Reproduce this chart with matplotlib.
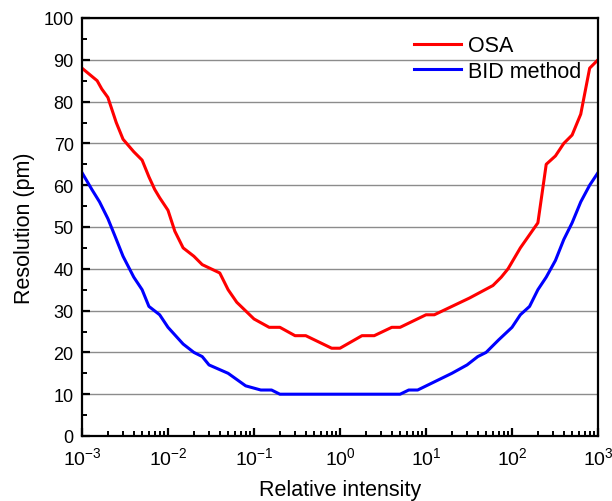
import numpy as np
import matplotlib
matplotlib.use('Agg')
import matplotlib.pyplot as plt
from matplotlib.ticker import LogLocator, MultipleLocator, NullFormatter

plt.rcParams['font.family'] = ['Liberation Sans', 'DejaVu Sans']
plt.rcParams['mathtext.fontset'] = 'custom'
plt.rcParams['mathtext.rm'] = 'Liberation Sans'
plt.rcParams['mathtext.it'] = 'Liberation Sans:italic'

# OSA curve
osa_x = [0.001, 0.0015, 0.0017, 0.002, 0.0025, 0.003, 0.004, 0.005, 0.006,
         0.007, 0.008, 0.01, 0.012, 0.015, 0.02, 0.025, 0.04, 0.05, 0.063,
         0.1, 0.15, 0.2, 0.3, 0.4, 0.8, 1.0, 1.8, 2.5, 4, 5, 10, 12.5, 20,
         32, 60, 75, 90, 125, 200, 250, 320, 400, 500, 630, 800, 1000]
osa_y = [88, 85, 83, 81, 75, 71, 68, 66, 62,
         59, 57, 54, 49, 45, 43, 41, 39, 35, 32,
         28, 26, 26, 24, 24, 21, 21, 24, 24, 26, 26, 29, 29, 31,
         33, 36, 38, 40, 45, 51, 65, 67, 70, 72, 77, 88, 90]

# BID method curve
bid_x = [0.001, 0.0013, 0.0016, 0.002, 0.0024, 0.003, 0.004, 0.005, 0.006,
         0.008, 0.01, 0.015, 0.02, 0.025, 0.03, 0.05, 0.08, 0.12, 0.16,
         0.2, 5, 6.3, 8, 20, 30, 40, 50, 70, 100, 125, 160, 200, 250,
         320, 400, 500, 630, 800, 1000]
bid_y = [63, 59, 56, 52, 48, 43, 38, 35, 31,
         29, 26, 22, 20, 19, 17, 15, 12, 11, 11,
         10, 10, 11, 11, 15, 17, 19, 20, 23, 26, 29, 31, 35, 38,
         42, 47, 51, 56, 60, 63]

fig = plt.figure(figsize=(6.12, 5.02), dpi=100)
ax = fig.add_axes([82/612, 1 - 437/502, 516/612, 418/502])

ax.plot(osa_x, osa_y, color='#ff0000', lw=2.2, label='OSA')
ax.plot(bid_x, bid_y, color='#0000ff', lw=2.2, label='BID method')

ax.set_xscale('log')
ax.set_xlim(1e-3, 1e3)
ax.set_ylim(0, 100)
ax.xaxis.set_major_locator(LogLocator(base=10, numticks=10))
ax.xaxis.set_minor_locator(LogLocator(base=10, subs=np.arange(2, 10), numticks=20))
ax.xaxis.set_minor_formatter(NullFormatter())
ax.yaxis.set_major_locator(MultipleLocator(10))
ax.yaxis.set_minor_locator(MultipleLocator(5))

ax.grid(axis='y', which='major', color='#8c8c8c', lw=1.0)
ax.set_axisbelow(True)

for s in ax.spines.values():
    s.set_linewidth(1.6)

ax.tick_params(which='major', direction='in', length=6, width=1.6,
               labelsize=13, pad=6)
ax.tick_params(axis='x', which='major', labelsize=14, pad=7)
ax.tick_params(which='minor', direction='in', length=3.5, width=1.4)

ax.set_xlabel('Relative intensity', fontsize=15.5, labelpad=8)
ax.set_ylabel('Resolution (pm)', fontsize=15.5, labelpad=6)

ax.legend(loc='upper right', bbox_to_anchor=(1.0, 1.0), frameon=False,
          fontsize=15.5, handlelength=2.2, handletextpad=0.3,
          labelspacing=0.2, borderaxespad=0.4)

fig.savefig('out.png', dpi=100)
